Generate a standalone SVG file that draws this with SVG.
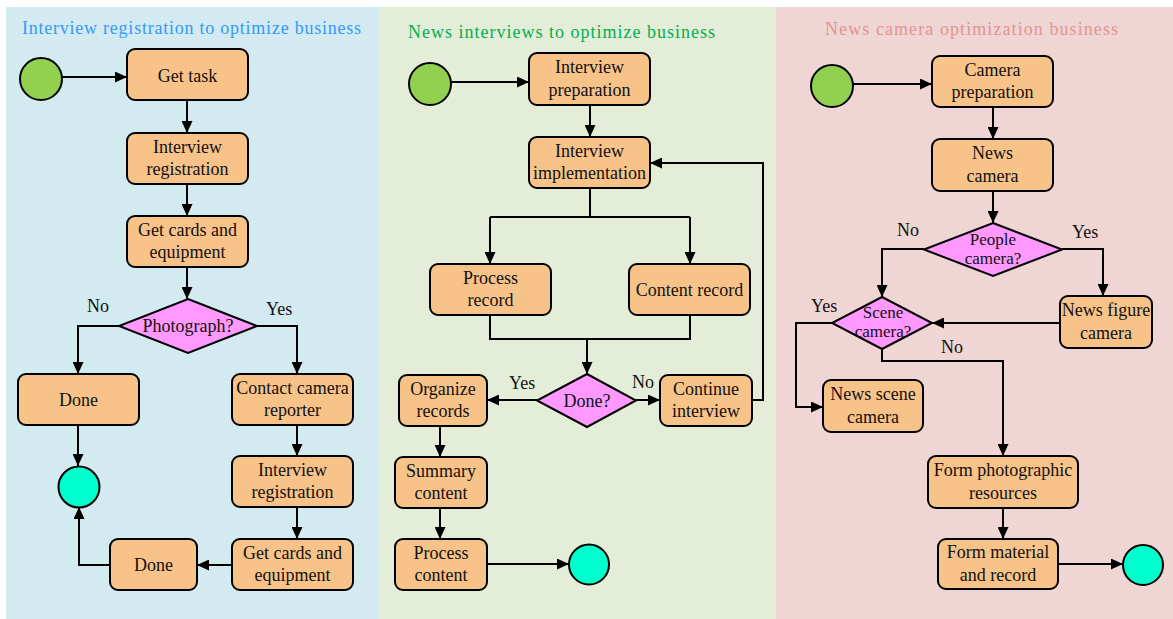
<svg xmlns="http://www.w3.org/2000/svg" width="1173" height="619" viewBox="0 0 1173 619">
<defs>
<marker id="arr" markerUnits="userSpaceOnUse" markerWidth="13" markerHeight="11" refX="12" refY="5.5" orient="auto">
<path d="M0,0 L12,5.5 L0,11 z" fill="#000"/>
</marker>
<style>
.box{fill:#f8c389;stroke:#000;stroke-width:2}
.dia{fill:#ff99ff;stroke:#000;stroke-width:2}
.start{fill:#92d050;stroke:#000;stroke-width:2}
.end{fill:#00ffcc;stroke:#000;stroke-width:2}
.t{font-family:"Liberation Serif","Times New Roman",serif;font-size:18px;fill:#111;text-anchor:middle}
.ts{font-family:"Liberation Serif","Times New Roman",serif;font-size:17px;fill:#111;text-anchor:middle}
.lbl{font-family:"Liberation Serif","Times New Roman",serif;font-size:18px;fill:#111}
.title{font-family:"Liberation Serif","Times New Roman",serif;font-size:18px}
.c{fill:none;stroke:#000;stroke-width:2}
.a{fill:none;stroke:#000;stroke-width:2;marker-end:url(#arr)}
</style>
</defs>
<rect x="0" y="0" width="1173" height="619" fill="#fff"/>
<g id="lanes">
<rect x="6" y="7" width="373" height="612" fill="#d3eaf0"/>
<rect x="379" y="7" width="397" height="612" fill="#e4edd8"/>
<rect x="776" y="7" width="397" height="612" fill="#efd5d3"/>
<text class="title" x="22" y="34" fill="#3399ff" textLength="339" lengthAdjust="spacing">Interview registration to optimize business</text>
<text class="title" x="408" y="38" fill="#00b050" textLength="307" lengthAdjust="spacing">News interviews to optimize business</text>
<text class="title" x="825" y="35" fill="#e39592" textLength="293" lengthAdjust="spacing">News camera optimization business</text>
</g>
<g id="connectors">
<path class="a" d="M62,77 H127"/>
<path class="a" d="M187,100 V133"/>
<path class="a" d="M187,184 V216"/>
<path class="a" d="M187,267 V299"/>
<path class="a" d="M119,326 H78 V374"/>
<path class="a" d="M257,326 H297 V374"/>
<path class="a" d="M78,425 V466"/>
<path class="a" d="M297,425 V456"/>
<path class="a" d="M297,507 V539"/>
<path class="a" d="M232,565 H197"/>
<path class="a" d="M110,565 H79 V507"/>
<path class="a" d="M451,82 H529"/>
<path class="a" d="M590,105 V137"/>
<path class="c" d="M590,188 V217 M490,217 H690"/>
<path class="a" d="M490,217 V264"/>
<path class="a" d="M690,217 V264"/>
<path class="c" d="M490,315 V339 H690 V315"/>
<path class="a" d="M587,339 V374"/>
<path class="a" d="M537,400 H487"/>
<path class="a" d="M636,400 H660"/>
<path class="a" d="M752,400 H763 V163 H650"/>
<path class="a" d="M440,426 V457"/>
<path class="a" d="M440,508 V539"/>
<path class="a" d="M487,564 H569"/>
<path class="a" d="M853,84 H932"/>
<path class="a" d="M993,107 V139"/>
<path class="a" d="M993,191 V223"/>
<path class="a" d="M924,249 H882 V297"/>
<path class="a" d="M1062,249 H1103 V296"/>
<path class="a" d="M1060,323 H932"/>
<path class="a" d="M832,323 H796 V407 H823"/>
<path class="a" d="M882,349 V361 H1003 V456"/>
<path class="a" d="M1003,508 V539"/>
<path class="a" d="M1058,564 H1123"/>
<text class="lbl" x="87" y="312">No</text>
<text class="lbl" x="266" y="315">Yes</text>
<text class="lbl" x="509" y="389">Yes</text>
<text class="lbl" x="632" y="388">No</text>
<text class="lbl" x="897" y="236">No</text>
<text class="lbl" x="1072" y="238">Yes</text>
<text class="lbl" x="811" y="312">Yes</text>
<text class="lbl" x="941" y="353">No</text>
</g>
<g id="start1"><circle class="start" cx="41" cy="79" r="21"/></g>
<g id="gettask"><rect class="box" x="127" y="49" width="121" height="51" rx="8"/><text class="t" x="187.5" y="81.5">Get task</text></g>
<g id="reg1"><rect class="box" x="127" y="133" width="121" height="51" rx="8"/><text class="t" x="187.5" y="152.5">Interview</text><text class="t" x="187.5" y="175">registration</text></g>
<g id="cards1"><rect class="box" x="127" y="216" width="121" height="51" rx="8"/><text class="t" x="187.5" y="235.5">Get cards and</text><text class="t" x="187.5" y="258">equipment</text></g>
<g id="photo"><polygon class="dia" points="188,299 257,326 188,353 119,326"/><text class="t" x="188" y="332">Photograph?</text></g>
<g id="done1"><rect class="box" x="18" y="374" width="121" height="51" rx="8"/><text class="t" x="78.5" y="406">Done</text></g>
<g id="contact"><rect class="box" x="232" y="374" width="121" height="51" rx="8"/><text class="t" x="292.5" y="393.5">Contact camera</text><text class="t" x="292.5" y="416">reporter</text></g>
<g id="reg2"><rect class="box" x="232" y="456" width="121" height="51" rx="8"/><text class="t" x="292.5" y="475.5">Interview</text><text class="t" x="292.5" y="498">registration</text></g>
<g id="cards2"><rect class="box" x="232" y="539" width="121" height="51" rx="8"/><text class="t" x="292.5" y="558.5">Get cards and</text><text class="t" x="292.5" y="581">equipment</text></g>
<g id="done2"><rect class="box" x="110" y="539" width="87" height="51" rx="8"/><text class="t" x="153.5" y="571">Done</text></g>
<g id="end1"><circle class="end" cx="79" cy="487" r="20.5"/></g>
<g id="start2"><circle class="start" cx="430" cy="84" r="21"/></g>
<g id="prep"><rect class="box" x="529" y="53" width="121" height="52" rx="8"/><text class="t" x="589.5" y="73">Interview</text><text class="t" x="589.5" y="95.5">preparation</text></g>
<g id="impl"><rect class="box" x="529" y="137" width="121" height="51" rx="8"/><text class="t" x="589.5" y="156.5">Interview</text><text class="t" x="589.5" y="179">implementation</text></g>
<g id="procrec"><rect class="box" x="430" y="264" width="121" height="51" rx="8"/><text class="t" x="490.5" y="283.5">Process</text><text class="t" x="490.5" y="306">record</text></g>
<g id="contrec"><rect class="box" x="629" y="264" width="121" height="51" rx="8"/><text class="t" x="689.5" y="296">Content record</text></g>
<g id="doneq"><polygon class="dia" points="587,374 636,400.5 587,427 537,400.5"/><text class="t" x="587" y="407">Done?</text></g>
<g id="cont"><rect class="box" x="660" y="375" width="92" height="51" rx="8"/><text class="t" x="706" y="394.5">Continue</text><text class="t" x="706" y="417">interview</text></g>
<g id="org"><rect class="box" x="399" y="375" width="88" height="51" rx="8"/><text class="t" x="443" y="394.5">Organize</text><text class="t" x="443" y="417">records</text></g>
<g id="summ"><rect class="box" x="395" y="457" width="92" height="51" rx="8"/><text class="t" x="441" y="476.5">Summary</text><text class="t" x="441" y="499">content</text></g>
<g id="proccont"><rect class="box" x="395" y="539" width="92" height="51" rx="8"/><text class="t" x="441" y="558.5">Process</text><text class="t" x="441" y="581">content</text></g>
<g id="end2"><circle class="end" cx="589" cy="564.5" r="20"/></g>
<g id="start3"><circle class="start" cx="832" cy="86" r="21"/></g>
<g id="camprep"><rect class="box" x="932" y="56" width="121" height="51" rx="8"/><text class="t" x="992.5" y="75.5">Camera</text><text class="t" x="992.5" y="98">preparation</text></g>
<g id="newscam"><rect class="box" x="932" y="139" width="121" height="52" rx="8"/><text class="t" x="992.5" y="159">News</text><text class="t" x="992.5" y="181.5">camera</text></g>
<g id="peopleq"><polygon class="dia" points="993,223 1062,249.5 993,276 924,249.5"/><text class="ts"><tspan x="993" y="244.5">People</tspan><tspan x="993" y="264">camera?</tspan></text></g>
<g id="figcam"><rect class="box" x="1060" y="296" width="92" height="52" rx="8"/><text class="t" x="1106" y="316">News figure</text><text class="t" x="1106" y="338.5">camera</text></g>
<g id="sceneq"><polygon class="dia" points="882,297 932,323 882,349 832,323"/><text class="ts"><tspan x="883" y="317.5">Scene</tspan><tspan x="883" y="337">camera?</tspan></text></g>
<g id="scenecam"><rect class="box" x="823" y="380" width="100" height="52" rx="8"/><text class="t" x="873" y="400">News scene</text><text class="t" x="873" y="422.5">camera</text></g>
<g id="formphoto"><rect class="box" x="928" y="456" width="150" height="52" rx="8"/><text class="t" x="1003" y="476">Form photographic</text><text class="t" x="1003" y="498.5">resources</text></g>
<g id="formmat"><rect class="box" x="938" y="539" width="120" height="50" rx="8"/><text class="t" x="998" y="558">Form material</text><text class="t" x="998" y="580.5">and record</text></g>
<g id="end3"><circle class="end" cx="1143" cy="565" r="20"/></g>
</svg>
